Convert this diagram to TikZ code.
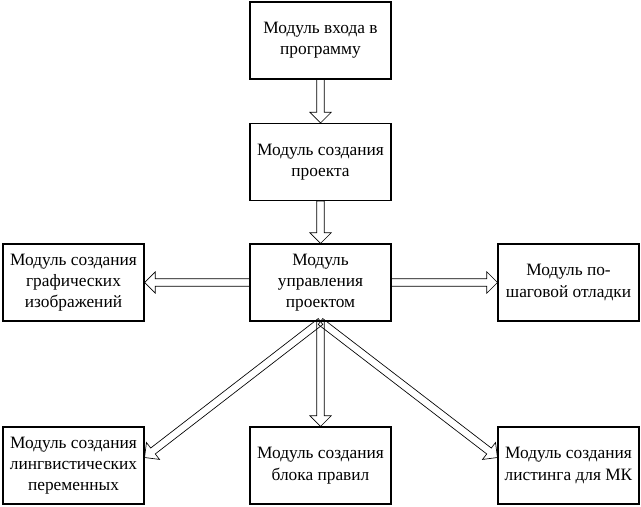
\documentclass[tikz,border=0pt]{standalone}
\usepackage{fontspec}
\setmainfont{Liberation Serif}
\usetikzlibrary{calc,positioning}

% hollow block arrow from #1 to #2
\newcommand{\blockarrow}[2]{%
  \draw[blockarr] ($(#1)!2.8pt!90:(#2)$) -- ($(#2)!8pt!(#1)!2.8pt!90:(#2)$)
    -- ($(#2)!8pt!(#1)!8pt!90:(#2)$) -- (#2)
    -- ($(#2)!8pt!(#1)!8pt!-90:(#2)$) -- ($(#2)!8pt!(#1)!2.8pt!-90:(#2)$)
    -- ($(#1)!2.8pt!-90:(#2)$) -- cycle;}

\tikzset{
  modbox/.style={draw, line width=0.8pt, minimum width=105.75pt, minimum height=57.75pt,
    align=center, inner sep=2pt, font=\fontsize{13}{16}\selectfont},
  blockarr/.style={draw, line width=0.5pt, line join=miter}
}

\begin{document}
\begin{tikzpicture}[x=0.75pt, y=-0.75pt]
    \useasboundingbox (0,0) rectangle (641,506);

    \node[modbox] (entry) at (320.5,40.5) {Модуль входа в\\программу};
    \node[modbox] (project) at (320.5,162) {Модуль создания\\проекта};
    \node[modbox] (control) at (320.5,282.5) {Модуль\\управления\\проектом};
    \node[modbox] (graphics) at (73.5,282.5) {Модуль создания\\графических\\изображений};
    \node[modbox] (debug) at (568.5,282.5) {Модуль по-\\шаговой отладки};
    \node[modbox] (lingvar) at (73.5,465.5) {Модуль создания\\лингвистических\\переменных};
    \node[modbox] (rules) at (320.5,465.5) {Модуль создания\\блока правил};
    \node[modbox] (listing) at (568.5,465.5) {Модуль создания\\листинга для МК};

    \coordinate (lingvarIn) at ([yshift=6pt]lingvar.east);
    \coordinate (listingIn) at ([yshift=6pt]listing.west);

    \blockarrow{entry.south}{project.north}
    \blockarrow{project.south}{control.north}
    \blockarrow{control.west}{graphics.east}
    \blockarrow{control.east}{debug.west}
    \blockarrow{control.south}{rules.north}
    \blockarrow{control.south}{lingvarIn}
    \blockarrow{control.south}{listingIn}
\end{tikzpicture}
\end{document}
